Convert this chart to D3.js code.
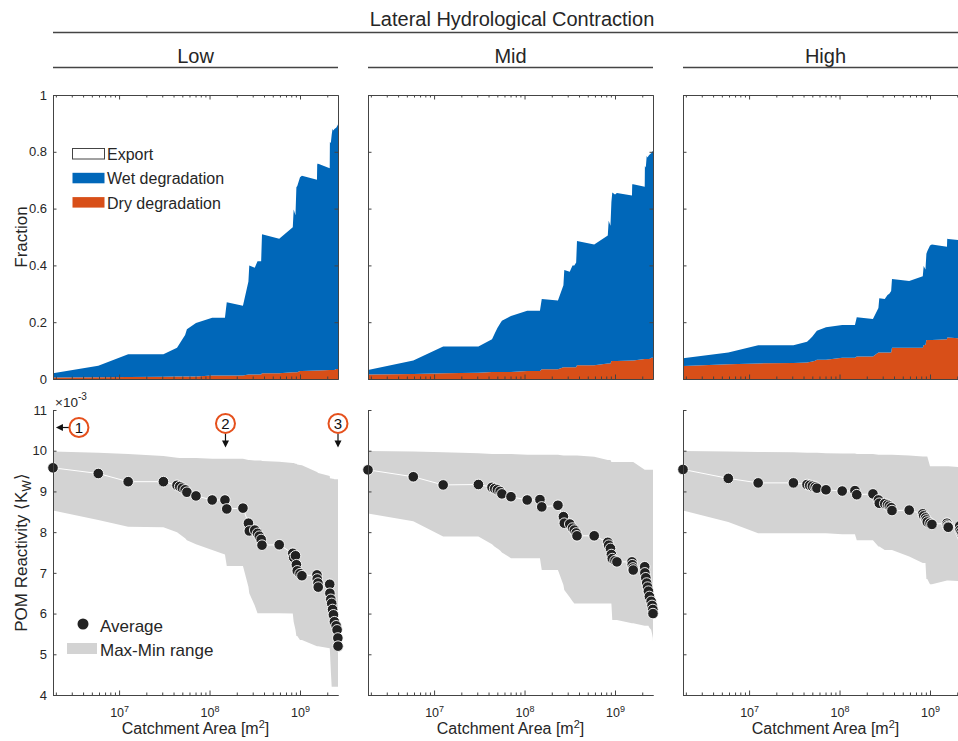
<!DOCTYPE html>
<html>
<head>
<meta charset="utf-8">
<title>POM fate and reactivity along the network</title>
<style>
  body { margin: 0; background: #fff; }
  svg { display: block; font-family: "Liberation Sans", Arial, Helvetica, sans-serif; }
  .ax path, .ax line { stroke: #444; stroke-width: 1; }
  .ax text { fill: #262626; font-size: 13px; font-family: "Liberation Sans", Arial, sans-serif; }
  .ax.xlab text { font-size: 12.5px; }
</style>
</head>
<body>
<div id="container"></div>
<script src="https://d3js.org/d3.v7.min.js"></script>
<script>
// ---- data ----
var columns = ["Low", "Mid", "High"];

// catchment area of each reach [m2]
var catchmentArea = [1.86e6, 5.89e6, 1.26e7, 3.09e7, 4.37e7, 4.68e7, 5.01e7, 5.37e7, 5.62e7, 7.08e7,
  1.07e8, 1.48e8, 1.55e8, 2.34e8, 2.69e8, 2.75e8, 3.16e8, 3.39e8, 3.55e8, 3.72e8,
  3.80e8, 5.89e8, 8.32e8, 8.51e8, 8.91e8, 9.12e8, 9.33e8, 1.00e9, 1.05e9, 1.54e9,
  1.55e9, 1.58e9, 1.59e9, 2.13e9, 2.14e9, 2.19e9, 2.24e9, 2.29e9, 2.34e9, 2.40e9,
  2.51e9, 2.57e9, 2.62e9, 2.63e9];

// fractions (top row)
var wetLow = [0.015,0.041,0.080,0.079,0.101,0.116,0.131,0.146,0.166,0.188,
  0.204,0.204,0.258,0.246,0.327,0.384,0.376,0.399,0.399,0.399,
  0.490,0.474,0.510,0.573,0.553,0.651,0.656,0.682,0.688,0.672,
  0.730,0.725,0.728,0.710,0.803,0.798,0.828,0.848,0.843,0.848,
  0.850,0.855,0.860,0.862];
var dryLow = [0.005,0.006,0.007,0.008,0.009,0.009,0.009,0.009,0.009,0.009,
  0.012,0.012,0.012,0.012,0.016,0.016,0.016,0.016,0.016,0.016,
  0.020,0.020,0.024,0.024,0.024,0.024,0.024,0.028,0.028,0.030,
  0.030,0.030,0.030,0.032,0.032,0.032,0.032,0.032,0.032,0.032,
  0.035,0.035,0.035,0.035];
var wetMid = [0.016,0.047,0.094,0.092,0.115,0.135,0.155,0.170,0.180,0.197,
  0.212,0.212,0.248,0.242,0.289,0.343,0.337,0.359,0.359,0.369,
  0.438,0.426,0.450,0.502,0.485,0.559,0.594,0.587,0.592,0.581,
  0.622,0.620,0.621,0.607,0.680,0.675,0.715,0.710,0.715,0.720,
  0.720,0.725,0.727,0.729];
var dryMid = [0.016,0.018,0.020,0.022,0.025,0.025,0.025,0.025,0.025,0.025,
  0.028,0.028,0.034,0.034,0.041,0.041,0.041,0.041,0.041,0.041,
  0.048,0.048,0.055,0.055,0.055,0.063,0.063,0.063,0.063,0.065,
  0.065,0.065,0.065,0.070,0.070,0.070,0.070,0.070,0.070,0.070,
  0.075,0.075,0.075,0.075];
var wetHigh = [0.027,0.041,0.064,0.063,0.073,0.080,0.088,0.098,0.102,0.114,
  0.115,0.115,0.138,0.132,0.157,0.191,0.189,0.203,0.207,0.217,
  0.242,0.235,0.252,0.278,0.266,0.304,0.313,0.333,0.337,0.326,
  0.349,0.346,0.347,0.346,0.355,0.353,0.356,0.358,0.357,0.359,
  0.360,0.361,0.362,0.362];
var dryHigh = [0.046,0.052,0.055,0.056,0.058,0.060,0.062,0.064,0.068,0.068,
  0.075,0.075,0.079,0.079,0.093,0.093,0.093,0.093,0.093,0.093,
  0.110,0.110,0.110,0.120,0.120,0.137,0.137,0.137,0.137,0.140,
  0.146,0.146,0.146,0.143,0.145,0.145,0.145,0.145,0.145,0.146,
  0.146,0.147,0.147,0.147];

// POM reactivity x1e-3 (bottom row)
var avgLow = [9.58,9.44,9.24,9.24,9.15,9.12,9.08,9.04,8.98,8.89,
  8.79,8.79,8.57,8.59,8.22,8.03,8.05,7.97,7.90,7.82,
  7.68,7.69,7.48,7.38,7.42,7.20,7.05,6.98,6.93,6.95,
  6.85,6.75,6.65,6.72,6.50,6.35,6.25,6.10,5.97,5.80,
  5.70,5.60,5.40,5.20];
var maxLow = [9.98,9.95,9.92,9.87,9.83,9.82,9.82,9.82,9.82,9.82,
  9.80,9.80,9.80,9.80,9.77,9.77,9.76,9.76,9.76,9.76,
  9.75,9.73,9.70,9.70,9.68,9.68,9.66,9.65,9.64,9.48,
  9.47,9.46,9.45,9.38,9.33,9.32,9.32,9.31,9.31,9.30,
  9.30,9.30,9.30,9.30];
var minLow = [8.53,8.30,8.13,8.12,8.00,7.95,7.90,7.85,7.80,7.70,
  7.56,7.45,7.17,7.17,6.66,6.50,6.20,6.01,6.01,6.01,
  6.01,6.01,6.00,5.80,5.60,5.45,5.45,5.35,5.35,5.20,
  5.20,5.20,5.20,5.15,5.10,4.60,4.20,4.20,4.20,4.20,
  4.20,4.20,4.20,4.20];
var avgMid = [9.53,9.36,9.16,9.17,9.10,9.07,9.04,9.00,8.94,8.87,
  8.79,8.80,8.62,8.66,8.38,8.22,8.20,8.10,8.05,7.98,
  7.91,7.91,7.75,7.68,7.60,7.45,7.35,7.30,7.27,7.27,
  7.20,7.12,7.07,7.15,7.00,6.88,6.75,6.65,6.55,6.42,
  6.30,6.20,6.10,6.00];
var maxMid = [9.99,9.98,9.96,9.94,9.92,9.92,9.92,9.92,9.92,9.92,
  9.90,9.90,9.90,9.90,9.88,9.88,9.88,9.88,9.88,9.88,
  9.88,9.85,9.77,9.77,9.77,9.72,9.72,9.72,9.72,9.72,
  9.72,9.72,9.72,9.53,9.53,9.53,9.53,9.53,9.53,9.53,
  9.53,9.53,9.53,9.53];
var minMid = [8.46,8.27,7.89,7.89,7.70,7.64,7.60,7.55,7.50,7.36,
  7.36,7.36,7.07,7.07,6.70,6.58,6.40,6.30,6.25,6.25,
  6.25,6.25,6.25,6.25,6.25,6.25,5.84,5.84,5.84,5.76,
  5.76,5.76,5.76,5.70,5.70,5.70,5.70,5.70,5.70,5.65,
  5.60,5.50,5.40,5.31];
var avgHigh = [9.54,9.32,9.21,9.21,9.17,9.15,9.13,9.11,9.08,9.04,
  9.01,9.02,8.92,8.94,8.79,8.71,8.70,8.67,8.64,8.60,
  8.53,8.54,8.45,8.40,8.35,8.30,8.25,8.22,8.19,8.22,
  8.17,8.14,8.12,8.15,8.05,8.00,7.95,7.90,7.85,7.80,
  7.75,7.70,7.65,7.60];
var maxHigh = [9.99,9.98,9.97,9.96,9.95,9.95,9.95,9.95,9.95,9.94,
  9.93,9.93,9.92,9.92,9.90,9.90,9.90,9.90,9.90,9.90,
  9.90,9.88,9.86,9.86,9.86,9.86,9.86,9.62,9.62,9.62,
  9.62,9.62,9.62,9.60,9.60,9.60,9.60,9.60,9.60,9.60,
  9.60,9.60,9.60,9.60];
var minHigh = [8.53,8.25,7.97,7.97,7.97,7.97,7.97,7.97,7.97,7.97,
  7.95,7.95,7.80,7.80,7.65,7.65,7.56,7.56,7.56,7.56,
  7.56,7.40,7.24,7.24,7.24,6.85,6.85,6.72,6.72,6.81,
  6.81,6.81,6.81,6.80,6.80,6.80,6.80,6.80,6.80,6.80,
  6.80,6.80,6.80,6.80];

var fracTicks = [0, 0.2, 0.4, 0.6, 0.8, 1];
var kwTicks = [4, 5, 6, 7, 8, 9, 10, 11];
var areaMajor = [1e7, 1e8, 1e9];

// circled markers on the Low panel (data coords)
var annotations = [
  {label: "1", area: 3.6e6, kw: 10.57, dir: "left"},
  {label: "2", area: 1.5e8, kw: 10.67, dir: "down"},
  {label: "3", area: 2.63e9, kw: 10.67, dir: "down"}
];

var wetFrac = [wetLow, wetMid, wetHigh];
var dryFrac = [dryLow, dryMid, dryHigh];
var kwAvg = [avgLow, avgMid, avgHigh];
var kwMax = [maxLow, maxMid, maxHigh];
var kwMin = [minLow, minMid, minHigh];

// ---- layout ----
var W = 958, H = 741;
var panelW = 285;
var colLeft = [53, 368, 683];
var topY = 95, topH = 284;
var botY = 410, botH = 285;
var colors = {dry: "#d84f18", wet: "#0067b9", band: "#d3d3d3", dot: "#222", ring: "#e5501c"};

var svg = d3.select("#container").append("svg")
  .attr("width", W).attr("height", H);

var x = d3.scaleLog().domain(d3.extent(catchmentArea)).range([0, panelW]);
var yFrac = d3.scaleLinear().domain([0, 1]).range([topH, 0]);
var yKw = d3.scaleLinear().domain([4, 11]).range([botH, 0]);

var minorTicks = x.ticks().filter(function(t) { return areaMajor.indexOf(t) < 0; });
var blank = function() { return ""; };

// header
svg.append("text").attr("x", 512).attr("y", 26).attr("text-anchor", "middle")
  .attr("font-size", 20).attr("fill", "#262626").text("Lateral Hydrological Contraction");
svg.append("line").attr("x1", colLeft[0]).attr("x2", colLeft[2] + panelW)
  .attr("y1", 32.5).attr("y2", 32.5).attr("stroke", "#444").attr("stroke-width", 1.5);

function xTicks(g, axisFn, withLabels) {
  g.append("g").attr("class", "ax")
    .call(axisFn(x).tickValues(minorTicks).tickSize(-2.5).tickSizeOuter(0).tickFormat(blank));
  var maj = g.append("g").attr("class", "ax xlab")
    .call(axisFn(x).tickValues(areaMajor).tickSize(-4.5).tickSizeOuter(0).tickPadding(13)
      .tickFormat(withLabels ? function() { return "10"; } : blank));
  if (withLabels) {
    maj.selectAll(".tick text").append("tspan")
      .attr("dy", "-0.55em").attr("font-size", "0.72em")
      .text(function(d) { return Math.round(Math.log10(d)); });
  }
  return g;
}

columns.forEach(function(name, i) {
  var gx = colLeft[i];

  svg.append("text").attr("x", gx + panelW / 2).attr("y", 63).attr("text-anchor", "middle")
    .attr("font-size", 20).attr("fill", "#262626").text(name);
  svg.append("line").attr("x1", gx).attr("x2", gx + panelW)
    .attr("y1", 67.5).attr("y2", 67.5).attr("stroke", "#444").attr("stroke-width", 1.5);

  // ---------- top: fractions ----------
  var gt = svg.append("g").attr("transform", "translate(" + gx + "," + topY + ")");
  var rows = catchmentArea.map(function(a, j) {
    return {area: a, dry: dryFrac[i][j], wet: wetFrac[i][j]};
  });
  var stacked = d3.stack().keys(["dry", "wet"])(rows);
  var area = d3.area()
    .x(function(d) { return x(d.data.area); })
    .y0(function(d) { return yFrac(d[0]); })
    .y1(function(d) { return yFrac(d[1]); });
  gt.selectAll("path.layer").data(stacked).join("path")
    .attr("class", "layer")
    .attr("d", area)
    .attr("fill", function(d) { return colors[d.key]; });

  xTicks(gt.append("g").attr("transform", "translate(0," + topH + ")"), d3.axisBottom, false);
  xTicks(gt.append("g"), d3.axisTop, false);
  gt.append("g").attr("class", "ax")
    .call(d3.axisLeft(yFrac).tickValues(fracTicks).tickSize(-3.5).tickSizeOuter(0).tickPadding(6)
      .tickFormat(i === 0 ? function(d) { return d; } : blank));
  gt.append("g").attr("class", "ax").attr("transform", "translate(" + panelW + ",0)")
    .call(d3.axisRight(yFrac).tickValues(fracTicks).tickSize(-3.5).tickSizeOuter(0).tickFormat(blank));

  // ---------- bottom: reactivity ----------
  var gb = svg.append("g").attr("transform", "translate(" + gx + "," + botY + ")");
  var pts = catchmentArea.map(function(a, j) {
    return {area: a, avg: kwAvg[i][j], max: kwMax[i][j], min: kwMin[i][j]};
  });
  gb.append("path").datum(pts)
    .attr("fill", colors.band)
    .attr("d", d3.area()
      .x(function(d) { return x(d.area); })
      .y0(function(d) { return yKw(d.min); })
      .y1(function(d) { return yKw(d.max); }));
  gb.append("path").datum(pts)
    .attr("fill", "none").attr("stroke", "#fff").attr("stroke-width", 1)
    .attr("d", d3.line()
      .x(function(d) { return x(d.area); })
      .y(function(d) { return yKw(d.avg); }));
  gb.selectAll("circle.avg").data(pts).join("circle")
    .attr("class", "avg")
    .attr("cx", function(d) { return x(d.area); })
    .attr("cy", function(d) { return yKw(d.avg); })
    .attr("r", 5.3)
    .attr("fill", colors.dot).attr("stroke", "#fff").attr("stroke-width", 0.9);

  xTicks(gb.append("g").attr("transform", "translate(0," + botH + ")"), d3.axisBottom, true);
  gb.append("g").attr("class", "ax")
    .call(d3.axisLeft(yKw).tickValues(kwTicks).tickSize(-3.5).tickSizeOuter(0).tickPadding(6)
      .tickFormat(i === 0 ? function(d) { return d; } : blank));

  svg.append("text").attr("x", gx + panelW / 2).attr("y", 734).attr("text-anchor", "middle")
    .attr("font-size", 16).attr("fill", "#262626")
    .call(function(t) {
      t.append("tspan").text("Catchment Area [m");
      t.append("tspan").attr("dy", -6).attr("font-size", 11).text("2");
      t.append("tspan").attr("dy", 6).text("]");
    });

  if (i === 0) {
    // exponent
    var ex = gb.append("text").attr("x", 2).attr("y", -3).attr("font-size", 13.5).attr("fill", "#262626")
      .text("\u00d710");
    ex.append("tspan").attr("dy", -7).attr("font-size", 10).text("-3");

    // circled markers with arrows
    annotations.forEach(function(a) {
      var cx = x(a.area), cy = yKw(a.kw);
      if (a.dir === "left") {
        gb.append("line").attr("x1", cx - 10).attr("x2", cx - 17).attr("y1", cy).attr("y2", cy)
          .attr("stroke", "#111").attr("stroke-width", 1.2);
        gb.append("path").attr("fill", "#111")
          .attr("d", "M" + (cx - 23) + "," + cy + "L" + (cx - 16) + "," + (cy - 3.5) + "L" + (cx - 16) + "," + (cy + 3.5) + "Z");
      } else {
        gb.append("line").attr("x1", cx).attr("x2", cx).attr("y1", cy + 10).attr("y2", cy + 19)
          .attr("stroke", "#111").attr("stroke-width", 1.2);
        gb.append("path").attr("fill", "#111")
          .attr("d", "M" + cx + "," + (cy + 24) + "L" + (cx - 3.5) + "," + (cy + 17) + "L" + (cx + 3.5) + "," + (cy + 17) + "Z");
      }
      gb.append("circle").attr("cx", cx).attr("cy", cy).attr("r", 9.5)
        .attr("fill", "#fff").attr("stroke", colors.ring).attr("stroke-width", 2);
      gb.append("text").attr("x", cx).attr("y", cy + 5.5).attr("text-anchor", "middle")
        .attr("font-size", 15).attr("fill", "#111").text(a.label);
    });

    // bottom legend
    gb.append("circle").attr("cx", 30).attr("cy", 214).attr("r", 5.5).attr("fill", colors.dot);
    gb.append("text").attr("x", 47).attr("y", 222).attr("font-size", 17).attr("fill", "#262626").text("Average");
    gb.append("rect").attr("x", 14).attr("y", 233).attr("width", 30).attr("height", 11).attr("fill", colors.band);
    gb.append("text").attr("x", 47).attr("y", 246).attr("font-size", 17).attr("fill", "#262626").text("Max-Min range");

    // top legend
    var legendItems = [
      {label: "Export", fill: "#fff", stroke: "#444"},
      {label: "Wet degradation", fill: colors.wet, stroke: "none"},
      {label: "Dry degradation", fill: colors.dry, stroke: "none"}
    ];
    legendItems.forEach(function(it, k) {
      var yy = 65 + k * 24.3;
      gt.append("rect").attr("x", 19.5).attr("y", yy - 11.5).attr("width", 32).attr("height", 10.5)
        .attr("fill", it.fill).attr("stroke", it.stroke).attr("stroke-width", 1);
      gt.append("text").attr("x", 54).attr("y", yy).attr("font-size", 16).attr("fill", "#262626").text(it.label);
    });
  }
});

// y labels
svg.append("text").attr("transform", "translate(27," + (topY + topH / 2) + ") rotate(-90)")
  .attr("text-anchor", "middle").attr("font-size", 17).attr("fill", "#262626").text("Fraction");
svg.append("text").attr("transform", "translate(27," + (botY + botH / 2) + ") rotate(-90)")
  .attr("text-anchor", "middle").attr("font-size", 17).attr("fill", "#262626")
  .call(function(t) {
    t.append("tspan").text("POM Reactivity \u27e8K");
    t.append("tspan").attr("dy", 4).attr("font-size", 12).text("W");
    t.append("tspan").attr("dy", -4).text("\u27e9");
  });
</script>
</body>
</html>
